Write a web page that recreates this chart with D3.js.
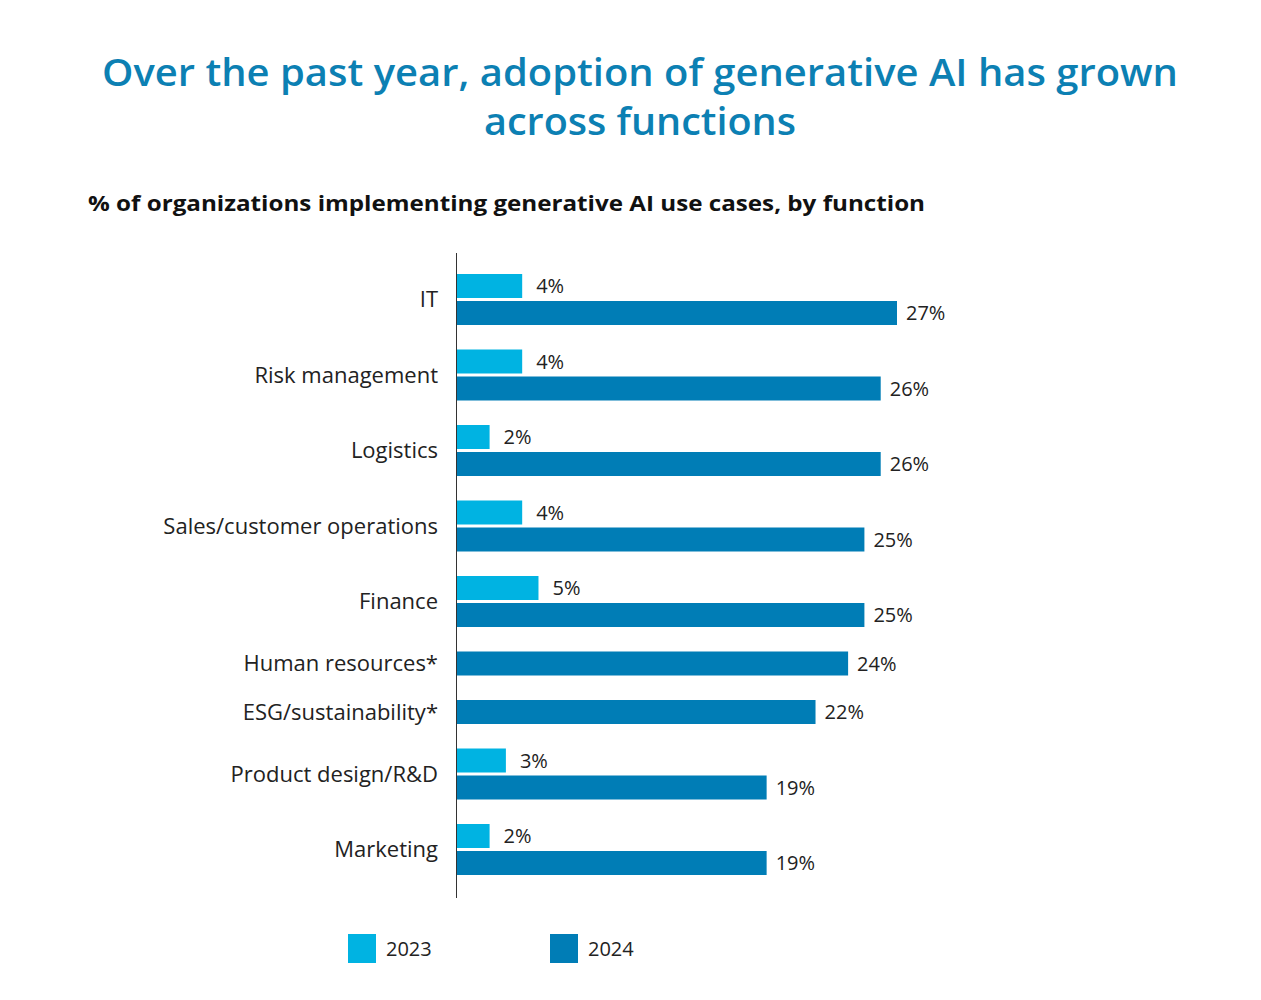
<!DOCTYPE html>
<html>
<head>
<meta charset="utf-8">
<script src="https://cdn.jsdelivr.net/npm/d3@7"></script>
<style>
  html, body { margin: 0; padding: 0; background: #fff; }
  svg { display: block; font-family: "Open Sans", "Noto Sans", sans-serif; }
</style>
</head>
<body>
<div id="chart"></div>
<script>
const WIDTH  = 1261;
const HEIGHT = 1000;

const categories = [
  "IT", "Risk management", "Logistics", "Sales/customer operations", "Finance",
  "Human resources*", "ESG/sustainability*", "Product design/R&D", "Marketing"
];
const years = ["2023", "2024"];
// null = not asked that year
const values2023 = [4, 4, 2, 4, 5, null, null, 3, 2];
const values2024 = [27, 26, 26, 25, 25, 24, 22, 19, 19];

const COLORS = { "2023": "#00b3e2", "2024": "#007db6" };

const BAR_PITCH = 27;    // px per bar slot
const GROUP_GAP = 21.5;  // px between groups
const BAR_H     = 24;

// build rows: one entry per bar, with a running slot offset
const rows = [];
const groups = [];
let offset = 0;
categories.forEach((cat, i) => {
  const start = offset;
  [values2023[i], values2024[i]].forEach((v, j) => {
    if (v == null) return;
    rows.push({ cat, year: years[j], value: v, pos: offset });
    offset += BAR_PITCH;
  });
  groups.push({ cat, start, end: offset });
  offset += GROUP_GAP;
});
const total = offset - GROUP_GAP;

const svg = d3.select("#chart").append("svg")
  .attr("width", WIDTH).attr("height", HEIGHT);

// titles
svg.append("text")
  .attr("x", 640).attr("y", 86)
  .attr("text-anchor", "middle")
  .attr("fill", "#0c80b3")
  .attr("font-size", 38).attr("font-weight", 600)
  .attr("textLength", 1076).attr("lengthAdjust", "spacingAndGlyphs")
  .text("Over the past year, adoption of generative AI has grown");
svg.append("text")
  .attr("x", 640).attr("y", 135)
  .attr("text-anchor", "middle")
  .attr("fill", "#0c80b3")
  .attr("font-size", 38).attr("font-weight", 600)
  .attr("textLength", 312).attr("lengthAdjust", "spacingAndGlyphs")
  .text("across functions");

svg.append("text")
  .attr("x", 88).attr("y", 211)
  .attr("fill", "#111")
  .attr("font-size", 22).attr("font-weight", 700)
  .attr("textLength", 837).attr("lengthAdjust", "spacingAndGlyphs")
  .text("% of organizations implementing generative AI use cases, by function");

// scales
const x = d3.scaleLinear().domain([0, 27]).range([457, 897]);
const y = d3.scaleLinear().domain([0, total]).range([274, 274 + total]);

// bars
svg.append("g").selectAll("rect")
  .data(rows)
  .join("rect")
  .attr("x", x(0))
  .attr("y", d => y(d.pos))
  .attr("width", d => x(d.value) - x(0))
  .attr("height", BAR_H)
  .attr("fill", d => COLORS[d.year]);

// value labels
svg.append("g").selectAll("text")
  .data(rows)
  .join("text")
  .attr("x", d => x(d.value) + (d.year === "2023" ? 14 : 9))
  .attr("y", d => y(d.pos) + BAR_H / 2)
  .attr("dy", "0.35em")
  .attr("fill", "#222")
  .attr("font-size", 20)
  .text(d => d.value + "%");

// category labels
svg.append("g").selectAll("text")
  .data(groups)
  .join("text")
  .attr("x", 438)
  .attr("y", d => y((d.start + d.end - (BAR_PITCH - BAR_H)) / 2))
  .attr("dy", "0.35em")
  .attr("text-anchor", "end")
  .attr("fill", "#222")
  .attr("font-size", 22)
  .text(d => d.cat);

// axis line
svg.append("line")
  .attr("x1", 456.5).attr("x2", 456.5)
  .attr("y1", 253).attr("y2", 898)
  .attr("stroke", "#333").attr("stroke-width", 1);

// legend
const legendX = [348, 550];
const legend = svg.append("g").selectAll("g")
  .data(years)
  .join("g")
  .attr("transform", (d, i) => `translate(${legendX[i]},934)`);
legend.append("rect")
  .attr("width", 28).attr("height", 29)
  .attr("fill", d => COLORS[d]);
legend.append("text")
  .attr("x", 38).attr("y", 15)
  .attr("dy", "0.35em")
  .attr("fill", "#222")
  .attr("font-size", 20)
  .text(d => d);
</script>
</body>
</html>
